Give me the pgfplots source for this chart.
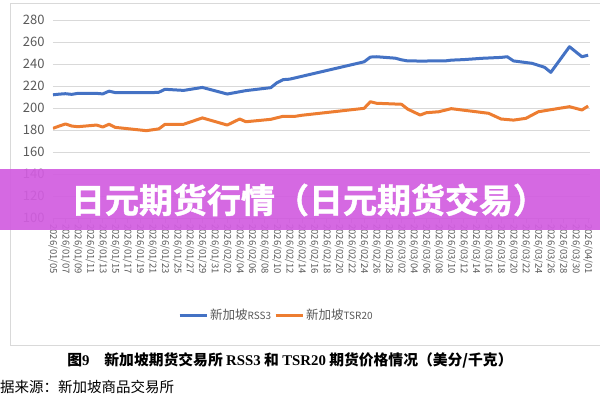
\documentclass[border=0pt]{standalone}
\usepackage{pgfplots}
\pgfplotsset{compat=1.18}
\usepackage{fontspec}
\setmainfont{Noto Sans CJK SC}
\newfontfamily\serifb{Liberation Serif}
\newfontfamily\heavy{Noto Sans CJK SC Bold}[FakeBold=1.2]
\definecolor{cblue}{HTML}{4472C4}
\definecolor{corange}{HTML}{ED7D31}
\definecolor{tgray}{HTML}{595959}
\definecolor{ggray}{HTML}{D9D9D9}
\definecolor{bpurple}{HTML}{D25EE0}
\begin{document}
\begin{tikzpicture}[x=1pt,y=1pt]
\path[use as bounding box] (0,0) rectangle (600,400);
\draw[ggray, line width=0.8pt] (10,55) rectangle (610,397);
\begin{axis}[
  at={(53pt,182pt)}, anchor=south west,
  scale only axis, width=537pt, height=198pt,
  xmin=0, xmax=86.3, ymin=100, ymax=280,
  axis x line*=bottom, axis y line*=left,
  y axis line style={draw=none},
  x axis line style={draw=gray!55, line width=0.8pt, -},
  ytick={100,120,...,280},
  ytick style={draw=none},
  xtick={0,2,...,86},
  xticklabels={2026/01/05,2026/01/07,2026/01/09,2026/01/11,2026/01/13,2026/01/15,2026/01/17,2026/01/19,2026/01/21,2026/01/23,2026/01/25,2026/01/27,2026/01/29,2026/01/31,2026/02/02,2026/02/04,2026/02/06,2026/02/08,2026/02/10,2026/02/12,2026/02/14,2026/02/16,2026/02/18,2026/02/20,2026/02/22,2026/02/24,2026/02/26,2026/02/28,2026/03/02,2026/03/04,2026/03/06,2026/03/08,2026/03/10,2026/03/12,2026/03/14,2026/03/16,2026/03/18,2026/03/20,2026/03/22,2026/03/24,2026/03/26,2026/03/28,2026/03/30,2026/04/01},
  tick align=outside,
  major tick length=5pt,
  xtick style={draw=gray!55, line width=0.6pt},
  xticklabel style={rotate=-90, anchor=west, font=\fontsize{9.5}{9.5}\selectfont, text=tgray, inner sep=2.5pt, xshift=-1.5pt},
  yticklabel style={font=\fontsize{13}{13}\selectfont, text=tgray},
  /pgf/number format/assume math mode=true,
  ymajorgrids, grid style={ggray, line width=0.8pt},
  legend columns=2,
  legend style={draw=none, at={(0.416,-0.49)}, anchor=center, font=\fontsize{12.5}{12.5}\selectfont, text=tgray, /tikz/every even column/.append style={column sep=1pt}},
  legend image code/.code={\draw[#1] (0pt,0pt) -- (27pt,0pt);},
]
\addplot[cblue, line width=3pt, line join=round] coordinates {
(0,212)(1,212.6)(2,213)(3,212.4)(4,213.3)(7,213.3)(8,212.8)(9,215.3)(10,214)(14,214)(16,214)(17,214.3)(18,217)(21,216)(24,218.7)(28,212.7)(31,215.8)(35,218.5)(36,223)(37,225.8)(38,226.2)(39,227.5)(50,242)(51,246.3)(52,246.6)(55,245.3)(56,243.8)(57,242.8)(59,242.7)(63,242.8)(64,243.5)(66,244)(69,245.2)(72,246)(73,246.6)(74,242.8)(77,240.6)(79,237)(80,232.4)(83,255.7)(85,246.6)(86,248)};
\addlegendentry{新加坡{\fontsize{10}{10}\selectfont RSS3}}
\addplot[corange, line width=3pt, line join=round] coordinates {
(0,181.5)(1,183.6)(2,185.5)(3,183.6)(4,183)(7,184.5)(8,182.7)(9,185.2)(10,182.4)(15,179.4)(17,181)(18,185.2)(21,185.2)(24,191)(28,184.5)(30,190)(31,187.5)(35,189.7)(37,192.5)(39,192.5)(40,193.4)(50,199.7)(51,205.7)(52,204.3)(56,203.4)(57,199)(59,193.6)(60,195.7)(62,196.6)(64,199.4)(70,195.2)(72,190)(74,189)(76,190.6)(78,196.6)(83,201.2)(85,198.2)(86,201.8)};
\addlegendentry{新加坡{\fontsize{10}{10}\selectfont TSR20}}
\end{axis}
\fill[bpurple, opacity=0.93] (0,170) rectangle (600,231);
\node[text=white, font=\fontsize{34}{34}\selectfont\heavy] at (309,200) {日元期货行情（日元期货交易）};
\node[font=\fontsize{14.8}{14.8}\selectfont\bfseries] at (290,40) {图{\serifb\bfseries 9}\quad 新加坡期货交易所 {\serifb\bfseries RSS3} 和 {\serifb\bfseries TSR20} 期货价格情况（美分/千克）};
\node[anchor=west, font=\fontsize{14.5}{14.5}\selectfont, inner sep=0pt] at (0,13) {据来源：新加坡商品交易所};
\end{tikzpicture}
\end{document}
